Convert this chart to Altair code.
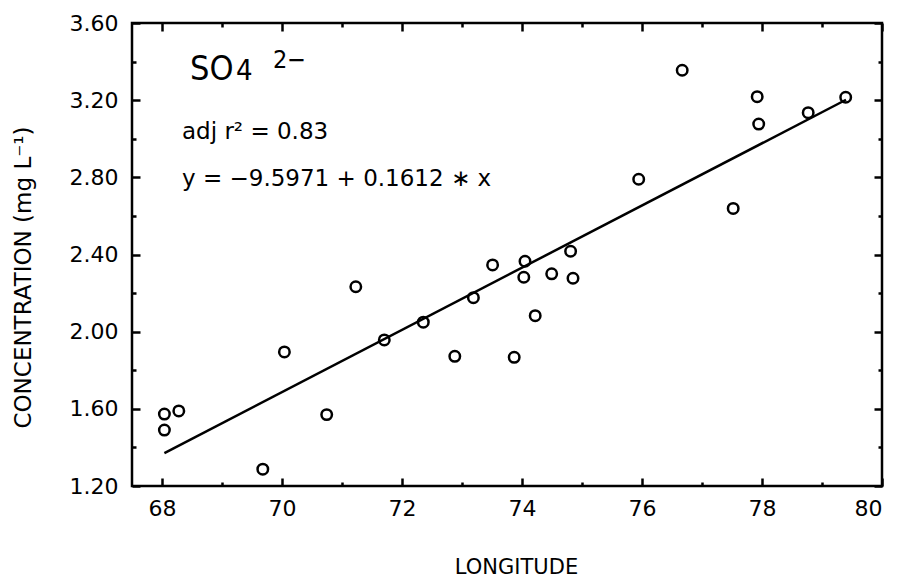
import altair as alt
import pandas as pd

# Sulfate concentration by sampling longitude
longitude = [68.04, 68.04, 68.28, 69.68, 70.04, 70.745, 71.23, 71.705, 72.355, 72.88,
             73.19, 73.51, 73.87, 74.05, 74.03, 74.22, 74.495, 74.81, 74.85, 75.945,
             76.67, 77.52, 77.92, 77.945, 78.77, 79.395]
concentration = [1.573, 1.490, 1.589, 1.287, 1.895, 1.570, 2.233, 1.957, 2.049, 1.872,
                 2.176, 2.346, 1.867, 2.365, 2.282, 2.083, 2.300, 2.417, 2.277, 2.790,
                 3.355, 2.639, 3.218, 3.076, 3.135, 3.215]

# Least-squares fit reported on the chart
intercept = -9.5971
slope = 0.1612
fit_lon = [68.04, 79.40]
fit_conc = [intercept + slope * x for x in fit_lon]

ion_main = "SO"
ion_sub = "4"
ion_charge = "2\u2212"
r2_label = "adj r\u00b2 = 0.83"
eq_label = "y = \u22129.5971 + 0.1612 \u2217 x"

x_major = [68, 70, 72, 74, 76, 78, 80]
x_minor = [69, 71, 73, 75, 77, 79]
y_major = [1.2, 1.6, 2.0, 2.4, 2.8, 3.2, 3.6]
y_minor = [1.4, 1.8, 2.2, 2.6, 3.0, 3.4]

points = pd.DataFrame({"lon": longitude, "conc": concentration})
fit = pd.DataFrame({"lon": fit_lon, "conc": fit_conc})

FONT = "DejaVu Sans"
x_scale = alt.Scale(domain=[67.5, 80], nice=False, zero=False)
y_scale = alt.Scale(domain=[1.2, 3.6], nice=False, zero=False)


def tick_axis(orient, values, size, **extra):
    # inward ticks: the axis is pulled into the plot by the tick length
    opts = dict(orient=orient, values=values, tickSize=size, offset=-size,
                domain=False, grid=False, tickColor="black", tickWidth=2.5,
                labels=False)
    opts.update(extra)
    return alt.Axis(**opts)


bottom_major = tick_axis(
    "bottom", x_major, 8, labels=True, format="d", labelFont=FONT,
    labelFontSize=22, labelColor="black", labelPadding=12,
    titleFont=FONT, titleFontSize=21, titleFontWeight="normal",
    titleColor="black", titleX=384, titleY=89, titleBaseline="middle")
left_major = tick_axis(
    "left", y_major, 8, labels=True, format=".2f", labelFont=FONT,
    labelFontSize=22, labelColor="black", labelPadding=14,
    titleFont=FONT, titleFontSize=23, titleFontWeight="normal",
    titleColor="black", titleX=-117, titleY=254, titleBaseline="middle")

fit_line = alt.Chart(fit).mark_line(color="black", strokeWidth=2.5).encode(
    x=alt.X("lon:Q", scale=x_scale, axis=bottom_major, title="LONGITUDE"),
    y=alt.Y("conc:Q", scale=y_scale, axis=left_major,
            title="CONCENTRATION (mg L\u207b\u00b9)"),
)

circles = alt.Chart(points).mark_point(
    shape="circle", filled=False, size=110, strokeWidth=2.5, color="black", opacity=1
).encode(
    x=alt.X("lon:Q", scale=x_scale, axis=tick_axis("bottom", x_minor, 4), title=None),
    y=alt.Y("conc:Q", scale=y_scale, axis=tick_axis("left", y_minor, 4), title=None),
)

# carriers for the top and right tick rows
top_right_major = alt.Chart(points).mark_point(opacity=0).encode(
    x=alt.X("lon:Q", scale=x_scale, axis=tick_axis("top", x_major, 8), title=None),
    y=alt.Y("conc:Q", scale=y_scale, axis=tick_axis("right", y_major, 8), title=None),
)
top_right_minor = alt.Chart(fit).mark_line(opacity=0).encode(
    x=alt.X("lon:Q", scale=x_scale, axis=tick_axis("top", x_minor, 4), title=None),
    y=alt.Y("conc:Q", scale=y_scale, axis=tick_axis("right", y_minor, 4), title=None),
)


def label(text, x, y, size, font=FONT):
    return alt.Chart(pd.DataFrame({"t": [text]})).mark_text(
        align="left", baseline="alphabetic", font=font, fontSize=size, color="black"
    ).encode(x=alt.value(x), y=alt.value(y), text="t:N")


narrow = "Liberation Sans Narrow, DejaVu Sans Condensed, DejaVu Sans"
annotations = [
    label(ion_main, 58, 57, 34, narrow),
    label(ion_sub, 104, 57, 29, narrow),
    label(ion_charge, 141, 45, 25, narrow),
    label(r2_label, 50, 116, 23),
    label(eq_label, 50, 163, 23),
]

chart = alt.layer(fit_line, circles, top_right_major, top_right_minor, *annotations).resolve_axis(
    x="independent", y="independent"
).properties(
    width=750,
    height=463,
    autosize=alt.AutoSizeParams(type="none"),
    padding={"left": 132, "top": 23, "right": 18, "bottom": 93},
    background="white",
).configure_view(stroke="black", strokeWidth=2.5, fill="white")

chart.save("out.html", embed_options={"renderer": "svg", "actions": False})
